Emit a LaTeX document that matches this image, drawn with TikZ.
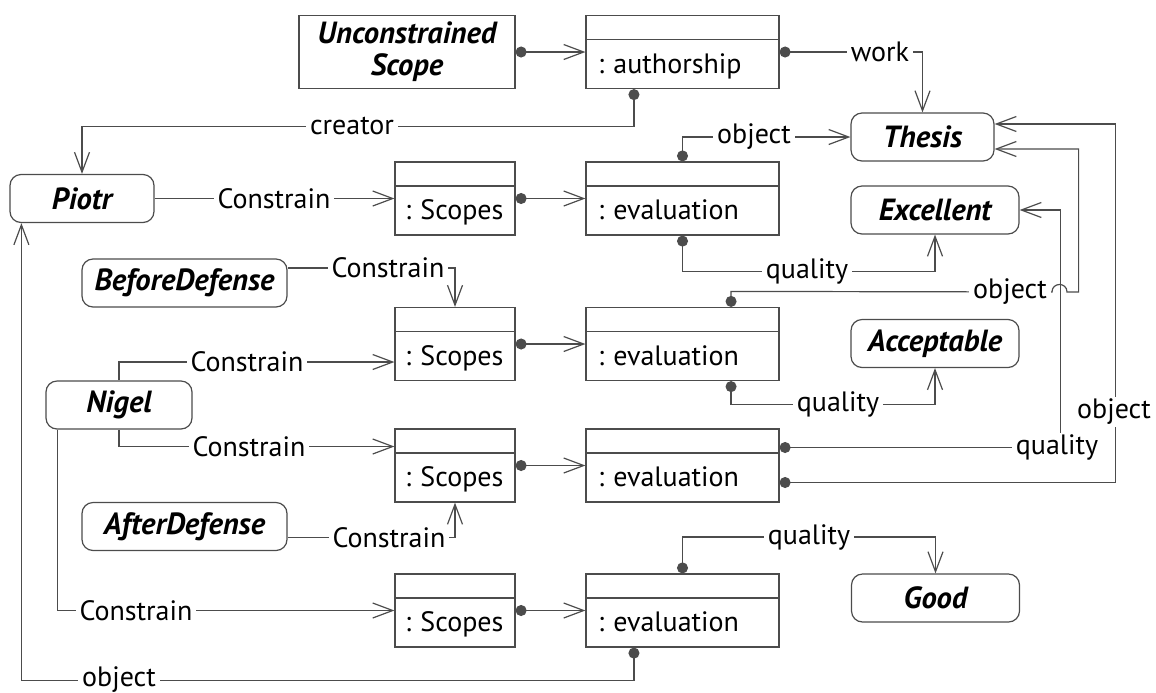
\documentclass[tikz,border=0pt]{standalone}
\usepackage{fontspec}
\setmainfont{PT Sans}
\usetikzlibrary{arrows.meta, calc}
\frenchspacing

\begin{document}
\begin{tikzpicture}[x=0.5pt, y=-0.5pt,
    font=\fontsize{14}{16}\selectfont,
    obj/.style={draw=black!70, line width=0.6pt, rounded corners=5.5pt, minimum height=24pt, inner sep=1pt, font=\fontsize{15.3}{17}\selectfont\bfseries\itshape},
    inst/.style={draw=black!70, line width=0.6pt, rectangle, minimum height=36.5pt, inner xsep=6pt, inner ysep=2pt,
        text height=24pt, text depth=3pt, align=left,
        path picture={\draw[black!70, line width=0.6pt] ([yshift=-12pt]path picture bounding box.north west) -- ([yshift=-12pt]path picture bounding box.north east);}},
    evalbox/.style={inst, text width=84.5pt},
    scopebox/.style={inst, inner xsep=5pt, text width=50pt},
    link/.style={draw=black!70, line width=0.6pt, {Circle[length=5.5pt]}-{Straight Barb[length=10pt, width=7.5pt]}},
    plain/.style={draw=black!70, line width=0.6pt, -{Straight Barb[length=10pt, width=7.5pt]}},
    lbl/.style={fill=white, inner xsep=2pt, inner ysep=1pt},
]
    \useasboundingbox (0,0) rectangle (1156,692);

    % value objects on the right
    \node[obj, minimum width=71.5pt] (thesis) at (922.5,137) {Thesis};
    \node[obj, minimum width=84pt] (excellent) at (935,210) {Excellent};
    \node[obj, minimum width=84pt] (acceptable) at (935,343.5) {Acceptable};
    \node[obj, minimum width=84pt] (good) at (935.5,598) {Good};

    % agents and periods on the left
    \node[obj, minimum width=72pt] (piotr) at (82,198.5) {Piotr};
    \node[obj, minimum width=102.5pt] (before) at (184.5,283) {BeforeDefense};
    \node[obj, minimum width=73pt] (nigel) at (119,405) {Nigel};
    \node[obj, minimum width=102.5pt] (after) at (184.5,526.5) {AfterDefense};

    % authorship
    \node[draw=black!70, line width=0.6pt, minimum width=108pt, minimum height=36.5pt, align=center,
        font=\fontsize{15.3}{16}\selectfont\bfseries\itshape] (uscope) at (407,52) {Unconstrained\\Scope};
    \node[evalbox] (auth) at (682.5,52) {: authorship};

    % scopes and evaluations
    \node[scopebox] (sc1) at (455,198.5) {: Scopes};
    \node[evalbox] (ev1) at (682.5,198.5) {: evaluation};
    \node[scopebox] (sc2) at (455,344) {: Scopes};
    \node[evalbox] (ev2) at (682.5,344) {: evaluation};
    \node[scopebox] (sc3) at (455,465.5) {: Scopes};
    \node[evalbox] (ev3) at (682.5,465.5) {: evaluation};
    \node[scopebox] (sc4) at (455,610.5) {: Scopes};
    \node[evalbox] (ev4) at (682.5,610.5) {: evaluation};

    % connectors
    \draw[link] (uscope.east) -- (auth.west);
    \draw[link] (auth.east) -| (thesis.north);
    \draw[link] ($(auth.south west)!0.25!(auth.south east)$) -- ++(0,37) -| (piotr.north);
    \draw[plain] (piotr.east) -- (sc1.west);
    \draw[link] (sc1.east) -- (ev1.west);
    \draw[link] (ev1.north) |- (thesis.west);
    \draw[link] (ev1.south) -- ++(0,36) -| (excellent.south);

    \draw[plain] ([yshift=7.5pt]before.east) -| (sc2.north);
    \draw[plain] (nigel.north) |- ([yshift=-9pt]sc2.west);
    \draw[link] (sc2.east) -- (ev2.west);
    \draw[link] ($(ev2.north west)!0.75!(ev2.north east)$) -- ++(0,-15.5) -- (1052,292)
        .. controls (1052,282) and (1067,282) .. (1067,292)
        -| ([xshift=42pt, yshift=-6pt]thesis.east) -- ([yshift=-6pt]thesis.east);
    \draw[link] ($(ev2.south west)!0.75!(ev2.south east)$) -- ++(0,23.5) -| (acceptable.south);

    \draw[plain] (nigel.south) |- ([yshift=9.5pt]sc3.west);
    \draw[plain] ([yshift=-5.5pt]after.east) -| (sc3.south);
    \draw[link] (sc3.east) -- (ev3.west);
    \draw[link] ([yshift=9pt]ev3.east) -| ([xshift=20.5pt]excellent.east) -- (excellent.east);
    \draw[link] ([yshift=-8.5pt]ev3.east) -| ([xshift=60.5pt, yshift=6.5pt]thesis.east) -- ([yshift=6.5pt]thesis.east);

    \draw[plain] ([xshift=6pt]nigel.south west) |- (sc4.west);
    \draw[link] (sc4.east) -- (ev4.west);
    \draw[link] (ev4.north) -- ++(0,-36.5) -| (good.north);
    \draw[link] ($(ev4.south west)!0.25!(ev4.south east)$) -- ++(0,33) -| ([xshift=6pt]piotr.south west);

    % connector labels
    \node[lbl] (lwork) at (880,52) {work};
    \node[lbl] (lcreator) at (352,125.5) {creator};
    \node[lbl] (lc1) at (274,198.5) {Constrain};
    \node[lbl] (lobj1) at (754,137) {object};
    \node[lbl] (lq1) at (807,271.5) {quality};
    \node[lbl] (lc2) at (388,268) {Constrain};
    \node[lbl] (lc3) at (247,362) {Constrain};
    \node[lbl] (lobj2) at (1010,292) {object};
    \node[lbl] (lq2) at (838,404) {quality};
    \node[lbl] (lc4) at (249,446.5) {Constrain};
    \node[lbl] (lc5) at (389,537.5) {Constrain};
    \node[lbl] (lq3) at (1057,447.5) {quality};
    \node[lbl] (lobj3) at (1114,412) {object};
    \node[lbl] (lq4) at (809,537.5) {quality};
    \node[lbl] (lc6) at (136,610.5) {Constrain};
    \node[lbl] (lobj4) at (119,680) {object};
\end{tikzpicture}
\end{document}
